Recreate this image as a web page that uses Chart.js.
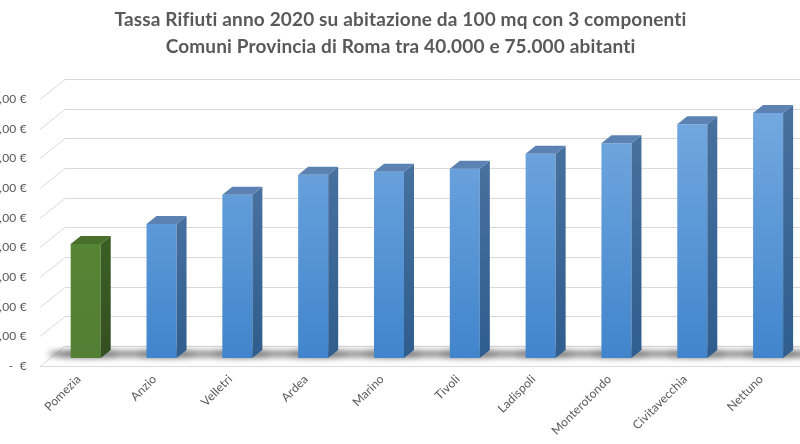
<!DOCTYPE html>
<html><head><meta charset="utf-8">
<script src="https://cdn.jsdelivr.net/npm/chart.js@4"></script>
<style>
html,body{margin:0;padding:0;overflow:hidden;background:#fff;width:800px;height:444px}
#wrap{position:absolute;left:-40px;top:0;width:880px;height:444px}
</style></head>
<body><div id="wrap"><canvas id="c" width="880" height="444"></canvas></div>
<script>
const titleLines = [
  'Tassa Rifiuti anno 2020 su abitazione da 100 mq con 3 componenti',
  'Comuni Provincia di Roma tra 40.000 e 75.000 abitanti'
];
const categories = ['Pomezia','Anzio','Velletri','Ardea','Marino','Tivoli','Ladispoli','Monterotondo','Civitavecchia','Nettuno'];
const values = [192, 226, 275, 309, 314, 319, 344, 362, 394, 413];
const highlighted = ['Pomezia'];
const yMin = 0, yMax = 450, yStep = 50;

const DX = 10, DY = 8;          // bar depth
const WALL_DY = 12;             // back wall offset
const FLOOR_DY = 8;             // front floor offset
const WALL_LEFT = 105, FLOOR_LEFT = 80; // canvas x

function isHi(i){ return highlighted.includes(categories[i]); }

function frontFill(ctx){
  const chart = ctx.chart, a = chart.chartArea;
  if (!a) return '#5b9bd5';
  const g = chart.ctx.createLinearGradient(0, a.top, 0, a.bottom);
  if (isHi(ctx.dataIndex)) { g.addColorStop(0,'#5b8c38'); g.addColorStop(1,'#527f33'); }
  else { g.addColorStop(0,'#78ace2'); g.addColorStop(1,'#4185cc'); }
  return g;
}

const noLigatures = {
  id: 'noLigatures',
  beforeDraw(chart){ chart.ctx.letterSpacing = '0.15px'; }
};

const bar3d = {
  id: 'bar3d',
  beforeDatasetsDraw(chart){
    const ctx = chart.ctx, ys = chart.scales.y, W = chart.width;
    ctx.save();
    ctx.strokeStyle = '#d9d9d9'; ctx.lineWidth = 1;
    ys.ticks.forEach(t => {
      const yF = Math.round(ys.getPixelForValue(t.value));
      const yb = yF - WALL_DY + 0.5;
      ctx.beginPath();
      ctx.moveTo(FLOOR_LEFT, yF + FLOOR_DY + 0.5);
      ctx.lineTo(WALL_LEFT, yb);
      ctx.lineTo(W, yb);
      ctx.stroke();
    });
    const y0 = Math.round(ys.getPixelForValue(0));
    ctx.beginPath();
    ctx.moveTo(FLOOR_LEFT, y0 + FLOOR_DY + 0.5);
    ctx.lineTo(W, y0 + FLOOR_DY + 0.5);
    ctx.stroke();
    // shadows
    const meta = chart.getDatasetMeta(0);
    ctx.filter = 'blur(3px)';
    meta.data.forEach(el => {
      const p = el.getProps(['x','base'], true);
      ctx.fillStyle = 'rgba(40,40,40,0.75)';
      ctx.beginPath();
      ctx.ellipse(p.x + 4, p.base - 4, 42, 3.5, 0, 0, Math.PI*2);
      ctx.fill();
    });
    ctx.filter = 'none';
    ctx.restore();
  },
  afterDatasetsDraw(chart){
    const ctx = chart.ctx;
    const meta = chart.getDatasetMeta(0);
    ctx.save();
    meta.data.forEach((el, i) => {
      const p = el.getProps(['x','y','base','width'], true);
      const l = p.x - p.width/2, r = p.x + p.width/2, t = p.y, b = p.base;
      const hi = isHi(i);
      const gs = ctx.createLinearGradient(0, t, 0, b);
      if (hi) { gs.addColorStop(0,'#3b5e25'); gs.addColorStop(1,'#344f20'); }
      else { gs.addColorStop(0,'#46709e'); gs.addColorStop(1,'#2f5d8d'); }
      ctx.fillStyle = gs;
      ctx.beginPath();
      ctx.moveTo(r, t); ctx.lineTo(r+DX, t-DY); ctx.lineTo(r+DX, b-DY); ctx.lineTo(r, b);
      ctx.closePath(); ctx.fill();
      ctx.fillStyle = hi ? '#496f2d' : '#5b82b2';
      ctx.beginPath();
      ctx.moveTo(l, t); ctx.lineTo(l+DX, t-DY); ctx.lineTo(r+DX, t-DY); ctx.lineTo(r, t);
      ctx.closePath(); ctx.fill();
    });
    ctx.restore();
  }
};

new Chart(document.getElementById('c'), {
  type: 'bar',
  data: {
    labels: categories,
    datasets: [{
      data: values,
      backgroundColor: frontFill,
      borderWidth: 0,
      barPercentage: 0.396,
      categoryPercentage: 1
    }]
  },
  options: {
    responsive: false,
    animation: false,
    devicePixelRatio: 1,
    layout: { padding: { left: 35, right: 34, top: 0, bottom: 0 } },
    plugins: {
      legend: { display: false },
      tooltip: { enabled: false },
      title: {
        display: true,
        text: titleLines,
        color: '#595959',
        font: { family: 'Lato', size: 19, weight: 'bold', lineHeight: 1.42 },
        padding: { top: 6, bottom: 31 }
      }
    },
    scales: {
      x: {
        grid: { display: false, drawTicks: false },
        border: { display: false },
        ticks: {
          color: '#595959',
          font: { family: 'Lato', size: 12 },
          minRotation: 45, maxRotation: 45,
          padding: 14, labelOffset: -7,
          autoSkip: false
        },
        afterFit(s){ s.height = 86; }
      },
      y: {
        min: yMin, max: yMax,
        grid: { display: false, drawTicks: false },
        border: { display: false },
        ticks: {
          stepSize: yStep,
          color: '#595959',
          font: { family: 'Lato', size: 12 },
          padding: 21,
          labelOffset: 8,
          callback: v => v === 0 ? '-  €' : v.toFixed(2).replace('.', ',') + ' €'
        },
        afterFit(s){ s.width = 52.8; }
      }
    }
  },
  plugins: [noLigatures, bar3d]
});
</script>
</body></html>
